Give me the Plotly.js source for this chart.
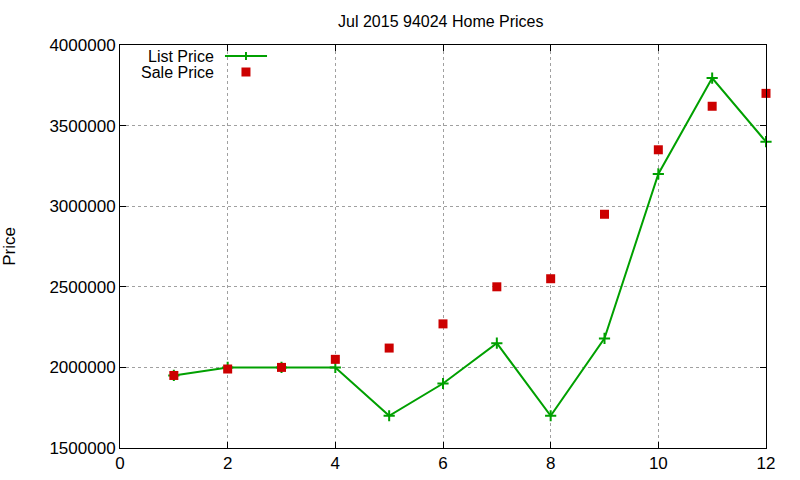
<!DOCTYPE html>
<html>
<head>
<meta charset="utf-8">
<script src="https://cdn.plot.ly/plotly-3.0.1.min.js"></script>
<style>html,body{margin:0;padding:0;background:#fff;}#chart{width:800px;height:480px;}</style>
</head>
<body>
<div id="chart"></div>
<script>
var months = [1, 2, 3, 4, 5, 6, 7, 8, 9, 10, 11, 12];
var listPrice = [1950000, 2000000, 2000000, 2000000, 1700000, 1900000, 2150000, 1700000, 2180000, 3200000, 3795000, 3400000];
var salePrice = [1950000, 1990000, 2000000, 2050000, 2120000, 2270000, 2500000, 2550000, 2950000, 3350000, 3620000, 3700000];
var xTicks = [0, 2, 4, 6, 8, 10, 12];
var yTicks = [1500000, 2000000, 2500000, 3000000, 3500000, 4000000];

var green = '#00a000';
var red = '#cc0000';
var font = 'Liberation Sans, Arial, sans-serif';

var traces = [
  {x: months, y: listPrice, name: 'List Price', type: 'scatter', mode: 'lines+markers',
   line: {color: green, width: 2},
   marker: {symbol: 'cross-thin', size: 8, color: green, line: {color: green, width: 2}},
   cliponaxis: false},
  {x: months, y: salePrice, name: 'Sale Price', type: 'scatter', mode: 'markers',
   marker: {symbol: 'square', size: 9, color: red}, cliponaxis: false}
];

var lx = 0.195;
var layout = {
  width: 800, height: 480,
  margin: {l: 120, r: 34, t: 45, b: 32},
  paper_bgcolor: '#fff', plot_bgcolor: '#fff',
  showlegend: false,
  font: {family: font, size: 16, color: '#000'},
  title: {text: 'Jul 2015 94024 Home Prices', x: 0.551, xanchor: 'center', y: 0.956, yanchor: 'middle',
          font: {family: font, size: 16, color: '#000'}},
  xaxis: {range: [0, 12], tickvals: xTicks, ticktext: xTicks.map(String),
          ticks: 'inside', ticklen: 6, tickcolor: '#000', mirror: 'ticks',
          showline: true, linecolor: '#000', linewidth: 1,
          showgrid: true, gridcolor: '#a0a0a0', griddash: 'dot', gridwidth: 1,
          zeroline: false, tickfont: {size: 17}},
  yaxis: {range: [1500000, 4000000], tickvals: yTicks, ticktext: yTicks.map(String),
          ticks: 'inside', ticklen: 6, tickcolor: '#000', mirror: 'ticks',
          showline: true, linecolor: '#000', linewidth: 1,
          showgrid: true, gridcolor: '#a0a0a0', griddash: 'dot', gridwidth: 1,
          zeroline: false, tickfont: {size: 17},
          title: {text: 'Price', standoff: 30, font: {size: 17}}},
  annotations: [
    {xref: 'paper', yref: 'paper', x: 0.1486, y: 0.9727, xanchor: 'right', yanchor: 'middle',
     text: 'List Price', showarrow: false, font: {size: 16}},
    {xref: 'paper', yref: 'paper', x: 0.1486, y: 0.9330, xanchor: 'right', yanchor: 'middle',
     text: 'Sale Price', showarrow: false, font: {size: 16}}
  ],
  shapes: [
    {type: 'line', xref: 'paper', yref: 'paper', x0: 0.1625, x1: 0.2276, y0: 0.9727, y1: 0.9727,
     line: {color: green, width: 2}},
    {type: 'line', xref: 'paper', yref: 'paper', xsizemode: 'pixel', xanchor: lx, x0: 0, x1: 0,
     ysizemode: 'pixel', yanchor: 0.9727, y0: -4, y1: 4, line: {color: green, width: 2}},
    {type: 'rect', xref: 'paper', yref: 'paper', xsizemode: 'pixel', xanchor: lx, x0: -4.5, x1: 4.5,
     ysizemode: 'pixel', yanchor: 0.9330, y0: -4.5, y1: 4.5, fillcolor: red, line: {width: 0}}
  ]
};

Plotly.newPlot('chart', traces, layout, {displayModeBar: false, staticPlot: true});
</script>
</body>
</html>
